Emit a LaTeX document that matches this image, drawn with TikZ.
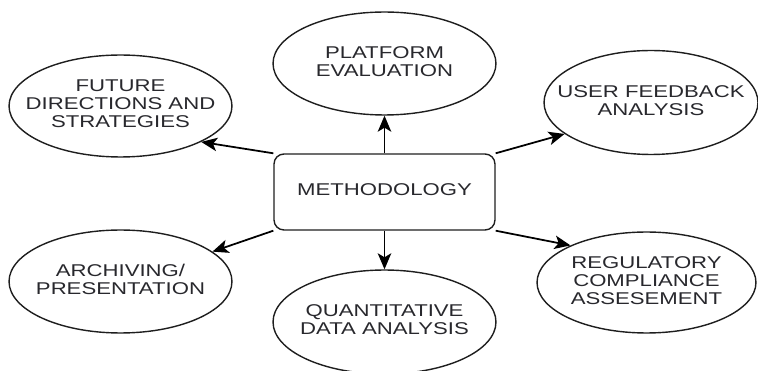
\documentclass[tikz,border=0pt]{standalone}
\usepackage{fontspec}
\setmainfont{Liberation Sans}
\usepackage{graphicx}
\usepackage{tikz}
\usetikzlibrary{shapes.geometric,arrows.meta}
\definecolor{inkgrey}{RGB}{30, 30, 30}
\definecolor{lblgrey}{RGB}{40, 40, 45}
\newcommand{\wlbl}[1]{\scalebox{1.3}[1]{\begin{tabular}{@{}c@{}}#1\end{tabular}}}

\begin{document}
\begin{tikzpicture}[x=0.02cm,y=-0.02cm,
    oval/.style={ellipse,draw=inkgrey,line width=.8pt,inner sep=0pt},
    lbl/.style={text=lblgrey,inner sep=0pt,font=\fontsize{9.7}{10.25}\selectfont},
    arr/.style={-{Stealth[length=3.2mm,width=2.7mm,inset=.8mm]},line width=1pt,black}]
      %\draw[step=50,gray,very thin] (0,0) grid (758,371);
      \useasboundingbox (0,0) rectangle (758,371);
      \node[draw=inkgrey,line width=.8pt,rounded corners=.2cm,minimum width=4.42cm,minimum height=1.52cm] (meth) at (384.5,192) {};
      \node[lbl] (methtxt) at (meth) {\wlbl{METHODOLOGY}};
      \node[oval,minimum width=4.46cm,minimum height=2.06cm] (plat) at (384.5,63.5) {};
      \node[lbl] (plattxt) at (plat) {\wlbl{PLATFORM\\EVALUATION}};
      \node[oval,minimum width=4.46cm,minimum height=2.04cm] (fut) at (120.5,106) {};
      \node[lbl] (futtxt) at (fut) {\wlbl{FUTURE\\DIRECTIONS AND\\STRATEGIES}};
      \node[oval,minimum width=4.28cm,minimum height=2.08cm] (usr) at (651,102.5) {};
      \node[lbl] (usrtxt) at (usr) {\wlbl{USER FEEDBACK\\ANALYSIS}};
      \node[oval,minimum width=4.46cm,minimum height=2.06cm] (arch) at (120.5,281.5) {};
      \node[lbl] (archtxt) at (arch) {\wlbl{ARCHIVING/\\PRESENTATION}};
      \node[oval,minimum width=4.46cm,minimum height=2.08cm] (quant) at (384.5,322) {};
      \node[lbl] (quanttxt) at (quant) {\wlbl{QUANTITATIVE\\DATA ANALYSIS}};
      \node[oval,minimum width=4.38cm,minimum height=2.02cm] (reg) at (646.5,282.5) {};
      \node[lbl] (regtxt) at (reg) {\wlbl{REGULATORY\\COMPLIANCE\\ASSESEMENT}};
      \draw[arr] (meth.north) -- (plat.south);
      \draw[arr] (meth.north west) -- (fut.-24);
      \draw[arr] (meth.north east) -- (usr.200);
      \draw[arr] (meth.south west) -- (arch.18);
      \draw[arr] (meth.south) -- (quant.north);
      \draw[arr] (meth.south east) -- (reg.154);
    \end{tikzpicture}
\end{document}
